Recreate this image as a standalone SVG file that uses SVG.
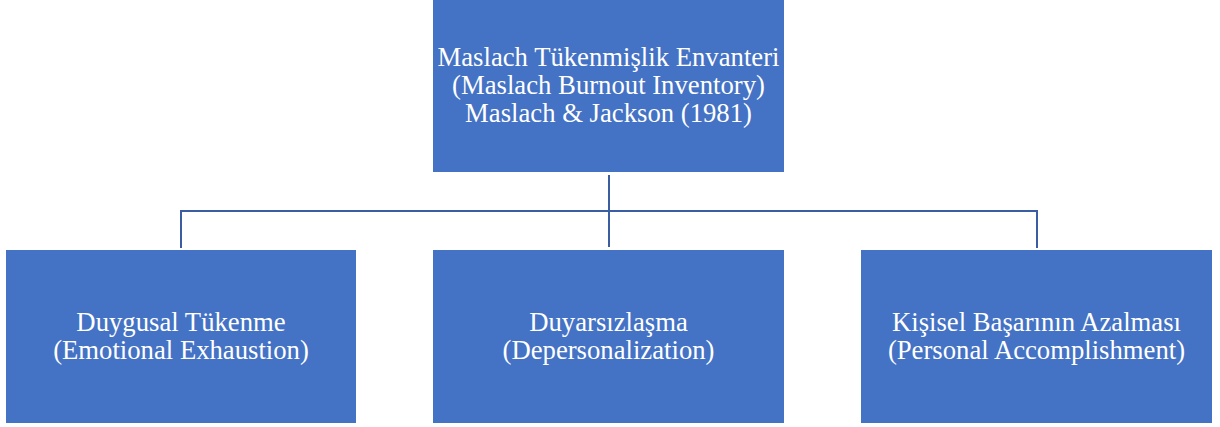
<svg xmlns="http://www.w3.org/2000/svg" width="1220" height="427" viewBox="0 0 1220 427">
  <style>
    .box { fill: #4472C4; }
    .lbl { fill: #ffffff; font-size: 26.7px; text-anchor: middle; }
    .conn { stroke: #3B5EA3; stroke-width: 2; fill: none; }
  </style>
  <rect width="1220" height="427" fill="#ffffff"/>
  <g id="connectors">
    <path class="conn" d="M609 175 V247"/>
    <path class="conn" d="M181 248 V211 H1037 V248"/>
  </g>
  <g id="nodes" font-family="Liberation Serif">
    <g id="node-mbi">
      <rect class="box" x="433" y="0" width="351" height="172"/>
      <text class="lbl" x="608.5" y="66">Maslach Tükenmişlik Envanteri</text>
      <text class="lbl" x="608.5" y="94">(Maslach Burnout Inventory)</text>
      <text class="lbl" x="608.5" y="122">Maslach &amp; Jackson (1981)</text>
    </g>
    <g id="node-emotional">
      <rect class="box" x="6" y="250" width="350" height="173"/>
      <text class="lbl" x="181" y="331">Duygusal Tükenme</text>
      <text class="lbl" x="181" y="359">(Emotional Exhaustion)</text>
    </g>
    <g id="node-depersonalization">
      <rect class="box" x="433" y="250" width="351" height="173"/>
      <text class="lbl" x="608.5" y="331">Duyarsızlaşma</text>
      <text class="lbl" x="608.5" y="359">(Depersonalization)</text>
    </g>
    <g id="node-accomplishment">
      <rect class="box" x="861" y="250" width="351" height="173"/>
      <text class="lbl" x="1036.5" y="331">Kişisel Başarının Azalması</text>
      <text class="lbl" x="1036.5" y="359">(Personal Accomplishment)</text>
    </g>
  </g>
</svg>
